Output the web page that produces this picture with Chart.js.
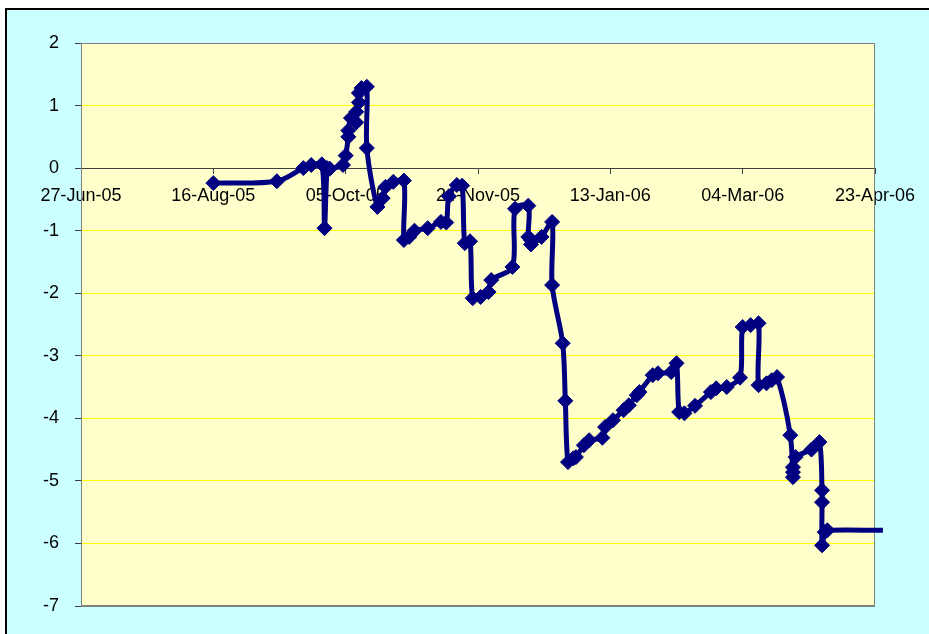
<!DOCTYPE html>
<html>
<head>
<meta charset="utf-8">
<script src="https://cdn.jsdelivr.net/npm/chart.js@4/dist/chart.umd.min.js"></script>
<style>
  html, body { margin: 0; padding: 0; background: #ffffff; }
  #frame {
    position: absolute; left: 5px; top: 8px; width: 940px; height: 640px;
    background: #CCFFFF; border-left: 2px solid #000; border-top: 2px solid #000;
  }
  #wrap { position: absolute; left: 0; top: 0; width: 929px; height: 634px; }
</style>
</head>
<body>
<div id="frame"></div>
<div id="wrap"><canvas id="c" width="929" height="634"></canvas></div>
<script>
// Observation dates and cumulative values
const dates = [
  '2005-08-16','2005-09-09','2005-09-19','2005-09-22','2005-09-26','2005-09-27','2005-09-28','2005-09-29',
  '2005-10-04','2005-10-05','2005-10-06','2005-10-06','2005-10-07','2005-10-09','2005-10-09','2005-10-10',
  '2005-10-10','2005-10-11','2005-10-13','2005-10-13','2005-10-17','2005-10-19','2005-10-20','2005-10-23',
  '2005-10-27','2005-10-27','2005-10-29','2005-10-31','2005-11-05','2005-11-10','2005-11-12','2005-11-13',
  '2005-11-16','2005-11-18','2005-11-19','2005-11-21','2005-11-22','2005-11-25','2005-11-28','2005-11-29',
  '2005-12-07','2005-12-08','2005-12-13','2005-12-13','2005-12-14','2005-12-14','2005-12-18','2005-12-22',
  '2005-12-22','2005-12-26','2005-12-27','2005-12-28','2005-12-30','2005-12-31','2006-01-03','2006-01-05',
  '2006-01-10','2006-01-11','2006-01-14','2006-01-18','2006-01-20','2006-01-23','2006-01-24','2006-01-29',
  '2006-01-31','2006-02-05','2006-02-07','2006-02-08','2006-02-10','2006-02-14','2006-02-20','2006-02-22',
  '2006-02-26','2006-03-03','2006-03-04','2006-03-07','2006-03-10','2006-03-10','2006-03-13','2006-03-15',
  '2006-03-17','2006-03-22','2006-03-23','2006-03-23','2006-03-23','2006-03-24','2006-03-30','2006-04-02',
  '2006-04-03','2006-04-03','2006-04-03','2006-04-04','2006-04-05','2006-04-26'
];
const values = [
  -0.24, -0.21, 0.00, 0.05, 0.06, -0.96, 0.00, -0.01,
  0.05, 0.20, 0.50, 0.60, 0.80, 0.73, 0.90, 1.05,
  1.20, 1.28, 1.30, 0.32, -0.62, -0.48, -0.30, -0.22,
  -0.20, -1.15, -1.10, -1.00, -0.96, -0.86, -0.87, -0.45,
  -0.27, -0.28, -1.20, -1.17, -2.08, -2.06, -1.98, -1.79,
  -1.58, -0.65, -0.60, -1.10, -1.15, -1.22, -1.10, -0.86,
  -1.87, -2.80, -3.72, -4.70, -4.64, -4.62, -4.43, -4.35,
  -4.31, -4.14, -4.03, -3.87, -3.79, -3.63, -3.58, -3.31,
  -3.28, -3.26, -3.12, -3.90, -3.92, -3.80, -3.58, -3.52,
  -3.50, -3.35, -2.54, -2.51, -2.48, -3.47, -3.44, -3.39,
  -3.34, -4.27, -4.94, -4.86, -4.78, -4.62, -4.50, -4.38,
  -5.15, -5.34, -6.03, -5.82, -5.79, -5.79
];

// Date axis: first tick date, tick labels every 50 days
const axisStart = '2005-06-27';
const xTickLabels = ['27-Jun-05','16-Aug-05','05-Oct-05','24-Nov-05','13-Jan-06','04-Mar-06','23-Apr-06'];
const yTicks = [2, 1, 0, -1, -2, -3, -4, -5, -6, -7];

const DAY = 86400000;
const t0 = Date.parse(axisStart);
const points = dates.map((d, i) => ({ x: (Date.parse(d) - t0) / DAY, y: values[i] }));
const lastIdx = points.length - 1;

const FONT = { family: "'Liberation Sans', Arial, sans-serif", size: 18 };

const plotBg = {
  id: 'plotBg',
  beforeDraw(chart) {
    const { ctx, chartArea: a } = chart;
    ctx.save();
    ctx.fillStyle = '#FFFFCC';
    ctx.fillRect(a.left, a.top, a.right - a.left, a.bottom - a.top);
    ctx.restore();
  },
  beforeDatasetsDraw(chart) {
    const { ctx, chartArea: a } = chart;
    ctx.save();
    ctx.strokeStyle = '#808080';
    ctx.lineWidth = 1;
    ctx.strokeRect(a.left + 0.5, a.top + 0.5, a.right - a.left - 1, a.bottom - a.top - 1);
    ctx.restore();
  }
};

new Chart(document.getElementById('c'), {
  type: 'line',
  data: {
    datasets: [{
      data: points,
      borderColor: '#000080',
      backgroundColor: '#000080',
      borderWidth: 5,
      tension: 0.3,
      pointStyle: 'rectRot',
      pointRadius: points.map((p, i) => i === lastIdx ? 0 : 7.5),
      pointBorderWidth: 1,
      pointBackgroundColor: '#000080',
      pointBorderColor: '#000080',
      clip: { left: 5, top: 10, right: 10, bottom: 10 }
    }]
  },
  options: {
    responsive: false,
    animation: false,
    devicePixelRatio: 1,
    layout: { padding: { left: 0, right: 54, top: 43, bottom: 28 } },
    plugins: { legend: { display: false }, tooltip: { enabled: false } },
    scales: {
      x: {
        type: 'linear',
        position: { y: 0 },
        min: 0,
        max: 300,
        afterBuildTicks(scale) {
          scale.ticks = xTickLabels.map((_, i) => ({ value: i * 50 }));
        },
        ticks: {
          autoSkip: false,
          maxRotation: 0,
          padding: 12,
          color: '#000',
          font: FONT,
          callback: (v, i) => xTickLabels[i]
        },
        grid: { drawOnChartArea: false, drawTicks: true, tickLength: 5, tickColor: '#404040' },
        border: { color: '#404040', width: 1 }
      },
      y: {
        min: -7,
        max: 2,
        afterFit(scale) { scale.width = 81; },
        afterBuildTicks(scale) {
          scale.ticks = yTicks.map(v => ({ value: v }));
        },
        ticks: { padding: 16, color: '#000', font: FONT },
        grid: {
          color: ctx => {
            const v = ctx.tick ? ctx.tick.value : null;
            if (v === 0) return 'rgba(0,0,0,0)';
            if (v === 2 || v === -7) return '#808080';
            return '#FFFF00';
          },
          tickColor: '#404040',
          tickLength: 6,
          lineWidth: 1
        },
        border: { color: '#808080', width: 1 }
      }
    }
  },
  plugins: [plotBg]
});
</script>
</body>
</html>
